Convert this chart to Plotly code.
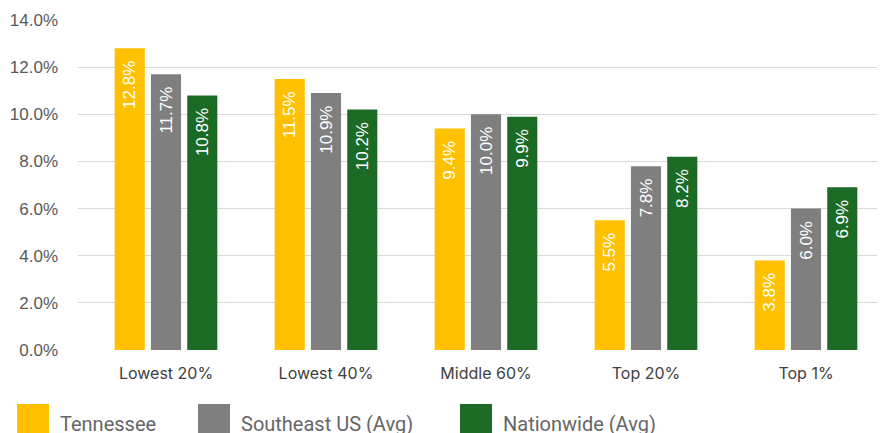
import plotly.graph_objects as go

categories = ["Lowest 20%", "Lowest 40%", "Middle 60%", "Top 20%", "Top 1%"]
tennessee = [12.8, 11.5, 9.4, 5.5, 3.8]
southeast = [11.7, 10.9, 10.0, 7.8, 6.0]
nationwide = [10.8, 10.2, 9.9, 8.2, 6.9]

series = [
    ("Tennessee", tennessee, "#FFC000"),
    ("Southeast US (Avg)", southeast, "#7F7F7F"),
    ("Nationwide (Avg)", nationwide, "#1B6B27"),
]

# page has an 8px body margin, so the figure is laid out in page pixels minus 8
OFF = 8
W, H = 885, 433
L, T = 78 - OFF, 20 - OFF
R = W - (886 - OFF)
B = H - (350 - OFF)

fig = go.Figure()
for name, vals, col in series:
    fig.add_trace(go.Bar(
        x=list(range(len(categories))), y=vals, name=name,
        marker=dict(color=col, line=dict(width=0)),
        # non-breaking spaces push the label down from the bar top a little
        text=[f"{v:.1f}%\u00a0\u00a0" for v in vals],
        textposition="inside", insidetextanchor="end", textangle=-90,
        textfont=dict(color="white", size=17, family="Liberation Sans"),
        cliponaxis=False,
    ))

# page px -> paper helpers for the hand-drawn legend
def px_x(x):
    return (x - OFF - L) / (W - L - R)

def px_y(y):
    return (H - B - (y - OFF)) / (H - T - B)

legend_x = [17, 198, 460]
for (name, vals, col), lx in zip(series, legend_x):
    fig.add_shape(type="rect", xref="paper", yref="paper",
                  x0=px_x(lx), x1=px_x(lx + 32), y0=px_y(404), y1=px_y(445),
                  fillcolor=col, line=dict(width=0), layer="above")
    fig.add_annotation(xref="paper", yref="paper", x=px_x(lx + 41), y=px_y(424),
                       text=name, showarrow=False, xanchor="left", yanchor="middle",
                       font=dict(size=20, color="#666666", family="Roboto"))

fig.update_layout(
    width=W, height=H,
    margin=dict(l=L, r=R, t=T, b=B, autoexpand=False),
    plot_bgcolor="white", paper_bgcolor="white",
    barmode="group", bargap=0.32, bargroupgap=0.17,
    showlegend=False,
    font=dict(family="Roboto", color="#595959", size=15),
)
fig.update_xaxes(
    tickmode="array", tickvals=list(range(len(categories))), ticktext=categories,
    range=[-0.55, 4.5], showgrid=False, showline=False, ticks="",
    automargin=False, ticklabelstandoff=12,
    tickfont=dict(size=16, color="#404040", family="Inter"),
)
fig.update_yaxes(
    range=[0, 14], dtick=2, tickformat=".1f", ticksuffix="%",
    showgrid=True, gridcolor="#D9D9D9", gridwidth=1, zeroline=False,
    showline=False, ticks="", ticklabelstandoff=19, automargin=False,
    tickfont=dict(size=17, color="#595959", family="Liberation Sans"),
)

fig.write_html("out.html")
